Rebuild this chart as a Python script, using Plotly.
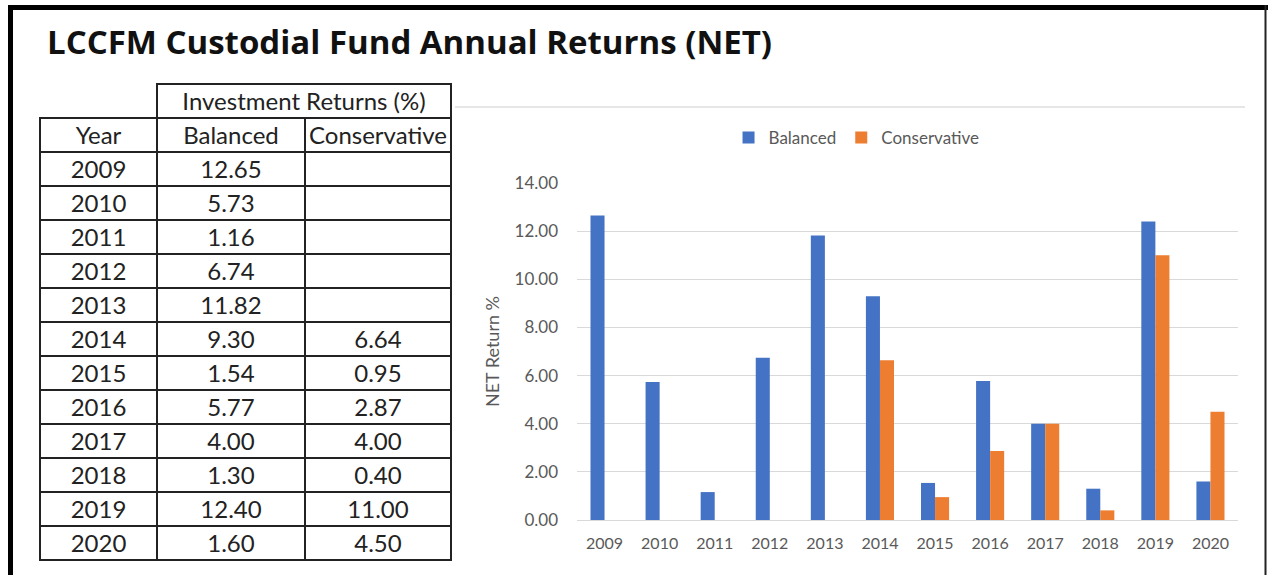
import plotly.graph_objects as go

years = ["2009", "2010", "2011", "2012", "2013", "2014", "2015", "2016", "2017", "2018", "2019", "2020"]
balanced = [12.65, 5.73, 1.16, 6.74, 11.82, 9.30, 1.54, 5.77, 4.00, 1.30, 12.40, 1.60]
conservative = [None, None, None, None, None, 6.64, 0.95, 2.87, 4.00, 0.40, 11.00, 4.50]
table_header = ["Year", "Balanced", "Conservative"]
group_header = "Investment Returns (%)"
title_text = "LCCFM Custodial Fund Annual Returns (NET)"
y_ticks = [0, 2, 4, 6, 8, 10, 12, 14]

W, H = 1268, 575
FONT = "Lato"
BLUE = "#4472C4"
ORANGE = "#ED7D31"
GRAY_TXT = "#595959"

def px_x(p):
    return p / W

def px_y(p):
    return 1 - p / H

fig = go.Figure()

fig.add_trace(go.Bar(name="Balanced", x=years, y=balanced, marker_color=BLUE,
                     marker_line_width=0))
fig.add_trace(go.Bar(name="Conservative", x=years, y=conservative, marker_color=ORANGE,
                     marker_line_width=0))

def fmt(v):
    return "" if v is None else f"{v:.2f}"

line_col = "#222222"
TFONT = dict(family=FONT, size=24, color="#222")
fig.add_trace(go.Table(
    domain=dict(x=[px_x(157), px_x(451)], y=[px_y(120), px_y(84)]),
    columnwidth=[1],
    header=dict(values=[group_header], height=34, align="center",
                fill_color="white", line=dict(color=line_col, width=1.5), font=TFONT),
    cells=dict(values=[[]], height=34, fill_color="white",
               line=dict(color=line_col, width=1.5)),
))

fig.add_trace(go.Table(
    domain=dict(x=[px_x(40), px_x(451)], y=[px_y(570), px_y(118)]),
    columnwidth=[117, 148, 146],
    header=dict(values=table_header, height=34, align="center",
                fill_color="white", line=dict(color=line_col, width=1.5), font=TFONT),
    cells=dict(values=[years, [fmt(v) for v in balanced], [fmt(v) for v in conservative]],
               height=34, align="center", fill_color="white",
               line=dict(color=line_col, width=1.5), font=TFONT),
))

fig.update_layout(
    width=W, height=H, autosize=False,
    margin=dict(l=0, r=0, t=0, b=0, pad=0, autoexpand=False),
    paper_bgcolor="white", plot_bgcolor="white",
    barmode="group", bargap=0.49, bargroupgap=0,
    font=dict(family=FONT, color=GRAY_TXT),
    showlegend=True,
    legend=dict(orientation="h", x=0.6755, xanchor="center", y=px_y(138), yanchor="middle",
                font=dict(size=17, color=GRAY_TXT), itemwidth=30, traceorder="normal"),
    xaxis=dict(domain=[px_x(577), px_x(1238)], showgrid=False, showline=False,
               ticks="", tickfont=dict(size=16, color=GRAY_TXT), ticklabelstandoff=12),
    yaxis=dict(domain=[px_y(520), px_y(183)], range=[0, 14], tickvals=y_ticks,
               tickformat=".2f", showgrid=True, gridcolor="#D9D9D9", gridwidth=1,
               zeroline=True, zerolinecolor="#D9D9D9", zerolinewidth=1,
               showline=False, ticks="", ticklabelstandoff=18,
               tickfont=dict(size=17, color=GRAY_TXT),
               title=dict(text="NET Return %", font=dict(size=18, color=GRAY_TXT), standoff=10)),
    annotations=[dict(text=f"<b>{title_text}</b>", xref="paper", yref="paper",
                      x=px_x(45), y=px_y(42), xanchor="left", yanchor="middle",
                      showarrow=False, font=dict(family="Open Sans", size=33, color="#111"))],
    shapes=[
        dict(type="line", xref="paper", yref="paper", x0=px_x(455), x1=px_x(1245),
             y0=px_y(107), y1=px_y(107), line=dict(color="#E6E6E6", width=2)),
        dict(type="line", xref="paper", yref="paper", x0=px_x(10.5), x1=px_x(10.5),
             y0=px_y(5), y1=px_y(575), line=dict(color="black", width=5)),
        dict(type="line", xref="paper", yref="paper", x0=px_x(8), x1=px_x(1268),
             y0=px_y(7.5), y1=px_y(7.5), line=dict(color="black", width=5)),
        dict(type="line", xref="paper", yref="paper", x0=px_x(1265.5), x1=px_x(1265.5),
             y0=px_y(5), y1=px_y(575), line=dict(color="#222", width=2)),
    ],
)

fig.write_html("out.html", config={"displayModeBar": False},
               post_script="document.body.style.margin='0';document.body.style.overflow='hidden';")
